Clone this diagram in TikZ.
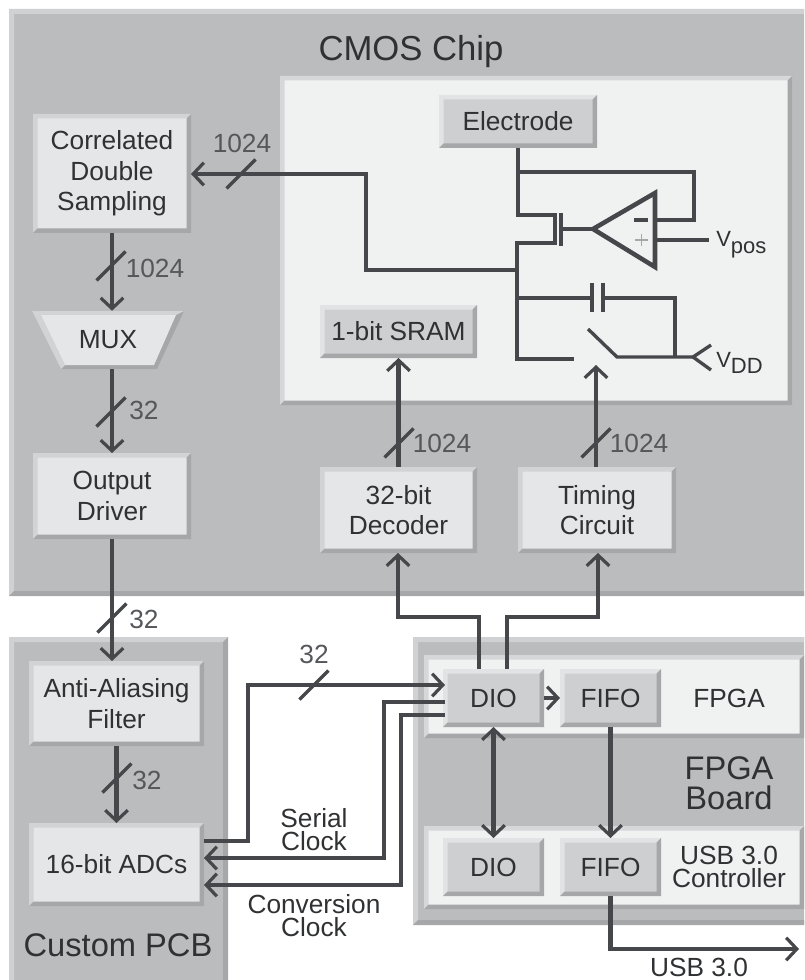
\documentclass[tikz,border=0pt]{standalone}
\usepackage{fontspec}
\setmainfont{Liberation Sans}
\usetikzlibrary{arrows.meta,positioning}
\definecolor{wirecol}{HTML}{45474A}
\definecolor{textcol}{HTML}{303133}
\definecolor{buscol}{HTML}{55575A}
\definecolor{chipface}{HTML}{BBBCBE}
\definecolor{chiplight}{HTML}{D0D1D3}
\definecolor{edgedark}{HTML}{A5A7A9}
\definecolor{panelface}{HTML}{F0F1F1}
\definecolor{panellight}{HTML}{D6D7D9}
\definecolor{paleface}{HTML}{E5E6E8}
\definecolor{paleedge}{HTML}{D2D3D5}
\definecolor{greyface}{HTML}{CECFD1}
\definecolor{greyedge}{HTML}{E2E3E4}
\tikzset{
  % raised look: light top and left, dark bottom and right
  bevel/.style args={#1/#2/#3}{fill=#2, inner sep=0pt, outer sep=0pt, align=center,
    text=textcol, font=\fontsize{19.7}{23}\selectfont,
    path picture={
      \fill[#1] (path picture bounding box.south west) -- (path picture bounding box.north west)
        -- (path picture bounding box.north east) -- ([shift={(-#3,#3)}]path picture bounding box.north east)
        -- ([shift={(#3,#3)}]path picture bounding box.north west)
        -- ([shift={(#3,-#3)}]path picture bounding box.south west) -- cycle;
      \fill[edgedark] (path picture bounding box.south west) -- (path picture bounding box.south east)
        -- (path picture bounding box.north east) -- ([shift={(-#3,#3)}]path picture bounding box.north east)
        -- ([shift={(-#3,-#3)}]path picture bounding box.south east)
        -- ([shift={(#3,-#3)}]path picture bounding box.south west) -- cycle;
    }},
  wh/.style 2 args={minimum width=#1*0.75pt, minimum height=#2*0.75pt},
  board/.style={bevel=chiplight/chipface/5},
  panel/.style={bevel=panellight/panelface/4.5},
  palebox/.style={bevel=paleedge/paleface/4.5},
  greybox/.style={bevel=greyedge/greyface/4.5},
  wire/.style={draw=wirecol, line width=3.6pt},
  thinwire/.style={draw=wirecol, line width=2.5pt},
  tip/.style={wire, -{Straight Barb[length=8pt,width=17pt,line width=2.4pt]}},
  tips/.style={wire, {Straight Barb[length=8pt,width=17pt,line width=2.4pt]}-{Straight Barb[length=8pt,width=17pt,line width=2.4pt]}},
  buslabel/.style={text=buscol, inner sep=0pt, font=\fontsize{19.7}{23}\selectfont},
  title/.style={text=textcol, inner sep=0pt, align=center, font=\fontsize{24.5}{22.5}\selectfont},
  plain/.style={text=textcol, inner sep=0pt, align=center, font=\fontsize{19.7}{17.2}\selectfont},
  volt/.style={text=textcol, inner sep=0pt, anchor=base west, font=\fontsize{16.5}{18}\selectfont},
  busmark/.pic={\draw[thinwire] (-14.5,14.5) -- (14.5,-14.5);}
}
\begin{document}
\begin{tikzpicture}[x=0.75pt,y=-0.75pt]
  \path[use as bounding box,clip] (0,0) rectangle (804,980);
  % Three boards
  \node[board,wh={805}{587}] (chip) at (411.5,302.5) {};
  \node[board,wh={219}{350}] (pcb) at (118.5,812) {};
  \node[board,wh={397}{288}] (fpgaboard) at (611.5,781) {};
  \node[panel,wh={512}{329}] (pixel) at (536,240.5) {};
  \node[panel,wh={380}{83}] (fpga) at (614,696.5) {};
  \node[panel,wh={380}{83}] (usb) at (614,867.5) {};
  \node[title] (chiplabel) at (411,52) {\fontsize{26}{30}\selectfont CMOS Chip};
  \node[title] (pcblabel) at (118,945) {Custom PCB};
  \node[title] (boardlabel) at (729,783) {FPGA\\Board};
  \node[plain] (fpgalabel) at (729,698) {FPGA};
  \node[plain] (usblabel) at (729,867) {USB 3.0\\Controller};

  % Blocks on the chip
  \node[greybox,wh={158}{53}] (electrode) at (518,121.5) {Electrode};
  \node[greybox,wh={157}{53}] (sram) at (398.5,331.5) {1-bit SRAM};
  \node[palebox,wh={158}{119}] (cds) at (112,173.5) {Correlated\\Double\\Sampling};
  \node[palebox,wh={158}{86}] (driver) at (112,496) {Output\\Driver};
  \node[palebox,wh={157}{86}] (decoder) at (398.5,510) {32-bit\\Decoder};
  \node[palebox,wh={158}{86}] (timing) at (597,510) {Timing\\Circuit};

  % The multiplexer is a plain trapezium
  \fill[edgedark] (32,311) -- (184,311) -- (157,369) -- (61,369) -- cycle;
  \fill[paleedge] (32,311) -- (184,311) -- (176,315) -- (41,315) -- (65,365) -- (61,369) -- cycle;
  \fill[paleface] (41,315) -- (176,315) -- (154,365) -- (65,365) -- cycle;
  \node[plain,minimum height=58*0.75pt] (mux) at (108,340) {MUX};

  % Blocks on the other boards
  \node[palebox,wh={175}{85}] (filter) at (116.5,703.5) {Anti-Aliasing\\Filter};
  \node[palebox,wh={175}{83}] (adc) at (116.5,864.5) {16-bit ADCs};
  \node[greybox,wh={101}{58}] (diotop) at (493.5,698) {DIO};
  \node[greybox,wh={101}{58}] (fifotop) at (610.5,698) {FIFO};
  \node[greybox,wh={101}{58}] (diobot) at (493.5,867) {DIO};
  \node[greybox,wh={101}{58}] (fifobot) at (610.5,867) {FIFO};

  % Pixel circuit
  \coordinate (drain) at (555,215);
  \coordinate (source) at (555,243);
  \coordinate (gate) at (561,229);
  \coordinate (amptip) at (593,229);
  \coordinate (ampneg) at (655,220);
  \coordinate (amppos) at (655,240);
  \coordinate (fbtop) at (694,172);
  \coordinate (node) at (517,270);
  \coordinate (vposend) at (709,240);
  \coordinate (vdd) at (693,357);
  \node[volt] (vpos) at (716,247) {V\raisebox{-5pt}{pos}};
  \node[volt] (vddlabel) at (716,367) {V\raisebox{-4.5pt}{DD}};
  \draw[thinwire] (electrode.south) |- (drain) -- (source) -| (517,359) -- (574,359);
  \draw[thinwire] (517,172) -- (fbtop) |- (ampneg);
  \draw[thinwire,line width=3pt] (561,213) -- (561,246);
  \draw[thinwire] (gate) -- (amptip);
  \draw[thinwire,line width=3.4pt] (amptip) -- (655,193) -- (655,267) -- cycle;
  \draw[thinwire] (amppos) -- (vposend);
  \draw[thinwire] (634,220) -- (648,220);
  \draw[draw=gray!70,line width=1pt] (635,240) -- (648,240) (641.5,234) -- (641.5,246);
  % Capacitor and switch
  \draw[thinwire] (517,298) -- (592,298) (592,283) -- (592,312);
  \draw[thinwire] (603,283) -- (603,312) (603,298) -| (675,357);
  \draw[thinwire] (588,329) -- (617,357) -- (vdd);
  \draw[thinwire] (711,345) -- (vdd) -- (711,370);

  % Buses on the chip
  \coordinate (cdsbus) at (366,174);
  \draw[tip] (node) -| (cdsbus) -- (cds.east |- cdsbus);
  \pic at (241,174) {busmark};
  \node[buslabel] (cdsnum) at (242,143) {1024};
  \draw[tip] (cds.south) -- (cds.south |- mux.north);
  \pic at (111,266) {busmark};
  \node[buslabel] (muxnum) at (155,268) {1024};
  \draw[tip] (cds.south |- mux.south) -- (driver.north);
  \pic at (111,412) {busmark};
  \node[buslabel] (drvnum) at (144,410) {32};
  \draw[tip] (decoder.north) -- (sram.south);
  \pic at (399,443) {busmark};
  \node[buslabel] (sramnum) at (442,443) {1024};
  \coordinate (swgate) at (596,365);
  \draw[tip] (timing.north -| swgate) -- (swgate);
  \pic at (596,443) {busmark};
  \node[buslabel] (swnum) at (639,443) {1024};

  % Between the boards
  \draw[tip] (driver.south) -- (driver.south |- filter.north);
  \pic at (112,618) {busmark};
  \node[buslabel] (filtnum) at (144,619) {32};
  \draw[tip] (filter.south) -- (adc.north);
  \pic at (117,778) {busmark};
  \node[buslabel] (adcnum) at (147,780) {32};

  \coordinate (dioa) at (479,669);
  \coordinate (diob) at (507,669);
  \coordinate (benda) at (398,617);
  \coordinate (bendb) at (598,617);
  \draw[tip] (dioa) |- (benda) -- (decoder.south -| benda);
  \draw[tip] (diob) |- (bendb) -- (timing.south -| bendb);

  \coordinate (adcout) at (204,841);
  \coordinate (adcser) at (204,858);
  \coordinate (adcconv) at (204,885);
  \coordinate (dioin) at (445,685);
  \coordinate (dioser) at (445,702);
  \coordinate (dioconv) at (445,715);
  \coordinate (busa) at (248,685);
  \coordinate (busb) at (384,858);
  \coordinate (busc) at (401,885);
  \draw[tip] (adcout) -| (busa) -- (dioin);
  \draw[tip] (dioser) -| (busb) -- (adcser);
  \draw[tip] (dioconv) -| (busc) -- (adcconv);
  \pic at (314,685) {busmark};
  \node[buslabel] (adcoutnum) at (314,654) {32};
  \node[plain] (serial) [above=5.5pt of busb -| adcoutnum] {Serial\\Clock};
  \node[plain] (conversion) [below=7pt of busc -| adcoutnum] {Conversion\\Clock};

  % FPGA links and the way out
  \draw[tip] (diotop.east) -- (fifotop.west);
  \draw[tips] (diotop.south) -- (diobot.north);
  \draw[tip] (fifotop.south) -- (fifobot.north);
  \coordinate (usbbend) at (610.5,949);
  \coordinate (usbout) at (799,949);
  \draw[tip] (fifobot.south) -- (usbbend) -- (usbout);
  \node[plain] (usbnum) at (699,967) {USB 3.0};
\end{tikzpicture}
\end{document}
